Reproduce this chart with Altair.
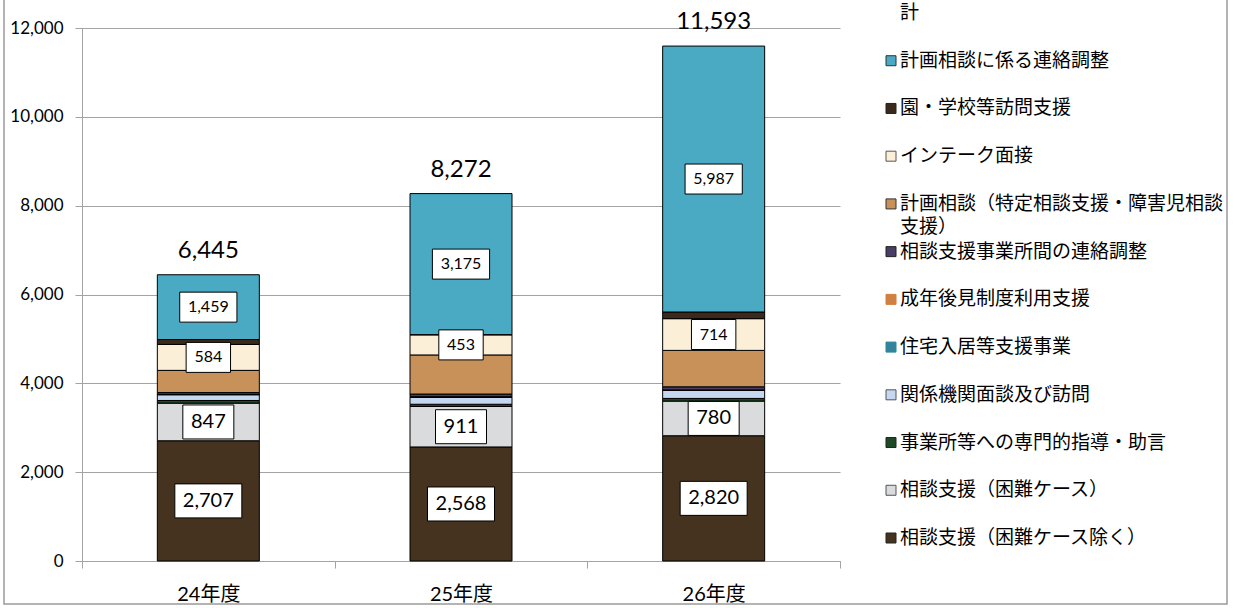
import altair as alt
import pandas as pd

# ---------------- data ----------------
categories = ["24年度", "25年度", "26年度"]

# stack order: bottom -> top
series_names = [
    "相談支援（困難ケース除く）",
    "相談支援（困難ケース）",
    "事業所等への専門的指導・助言",
    "関係機関面談及び訪問",
    "住宅入居等支援事業",
    "成年後見制度利用支援",
    "相談支援事業所間の連絡調整",
    "計画相談（特定相談支援・障害児相談支援）",
    "インテーク面接",
    "園・学校等訪問支援",
    "計画相談に係る連絡調整",
]
v_konnan_nozoku = [2707, 2568, 2820]
v_konnan = [847, 911, 780]
v_shido = [60, 50, 60]
v_kankei = [130, 160, 180]
v_jutaku = [3, 2, 4]
v_seinen = [5, 8, 8]
v_jigyosho = [40, 60, 70]
v_keikaku = [500, 880, 820]
v_intake = [584, 453, 714]
v_en = [110, 5, 150]
v_renraku = [1459, 3175, 5987]
totals = [6445, 8272, 11593]

y_ticks = [0, 2000, 4000, 6000, 8000, 10000, 12000]

series_values = [v_konnan_nozoku, v_konnan, v_shido, v_kankei, v_jutaku, v_seinen,
                 v_jigyosho, v_keikaku, v_intake, v_en, v_renraku]

series_colors = ["#45321f", "#dadbdc", "#1d4a25", "#c6d8f0", "#31849b", "#d08040",
                 "#4a3d66", "#c8915a", "#fcefd8", "#3b2a1c", "#4aaac4"]
symbol_strokes = ["#222222", "#555555", "#222222", "#555555", "#31849b", "#d08040",
                  "#222222", "#333333", "#555555", "#222222", "#333333"]

labeled_series = {"相談支援（困難ケース除く）": 20, "相談支援（困難ケース）": 20,
                  "インテーク面接": 16, "計画相談に係る連絡調整": 16}

legend_order = ["計"] + series_names[::-1]
legend_lines = {"計画相談（特定相談支援・障害児相談支援）": ["計画相談（特定相談支援・障害児相談", "支援）"]}

# ---------------- tables ----------------
bar_rows, label_rows = [], []
for i, cat in enumerate(categories):
    cum = 0
    for j, name in enumerate(series_names):
        v = series_values[j][i]
        bar_rows.append({"cat": cat, "series": name, "y0": cum, "y1": cum + v, "order": j})
        if name in labeled_series:
            fs = labeled_series[name]
            txt = f"{v:,}"
            d = sum(ch.isdigit() for ch in txt)
            c = txt.count(",")
            w = (0.55 * d + 0.25 * c) * fs + 18
            h = 34 if fs >= 20 else 30
            shape = f"M{-w/2:.1f},{-h/2:.1f}H{w/2:.1f}V{h/2:.1f}H{-w/2:.1f}Z"
            label_rows.append({"cat": cat, "mid": cum + v / 2, "txt": txt, "fs": fs, "shape": shape})
        cum += v
bar_df = pd.DataFrame(bar_rows)
label_df = pd.DataFrame(label_rows)
total_df = pd.DataFrame({"cat": categories, "total": totals,
                         "txt": [f"{t:,}" for t in totals]})

legend_rows = []
for name in legend_order:
    if name == "計":
        legend_rows.append({"name": name, "lines": [name], "fill": "none", "stroke": "none", "sym": 0})
    else:
        k = series_names.index(name)
        legend_rows.append({"name": name, "lines": legend_lines.get(name, [name]),
                            "fill": series_colors[k], "stroke": symbol_strokes[k], "sym": 1})

# ---------------- chart ----------------
GRAY = "#a3a3a3"
xscale = alt.Scale(domain=categories, paddingInner=0, paddingOuter=0)
yscale = alt.Scale(domain=[0, 12000], nice=False)

x_axis = alt.Axis(title=None, labelAngle=0, labelFont="Lato, Noto Sans CJK JP",
                  labelFontSize=20, labelColor="black", tickBand="extent",
                  tickSize=7, tickColor=GRAY, domainColor=GRAY, labelPadding=16,
                  grid=False)
y_axis = alt.Axis(title=None, values=y_ticks,
                  labelExpr="format(datum.value, ',')",
                  labelFont="Lato", labelFontSize=17, labelColor="black",
                  tickSize=7, tickColor=GRAY, domainColor=GRAY, gridColor=GRAY,
                  labelPadding=12, grid=True)

bars = alt.Chart(bar_df).mark_bar(size=102, stroke="black", strokeWidth=1).encode(
    x=alt.X("cat:N", sort=categories, scale=xscale, axis=x_axis),
    y=alt.Y("y0:Q", scale=yscale, axis=y_axis),
    y2="y1:Q",
    color=alt.Color("series:N", scale=alt.Scale(domain=series_names, range=series_colors),
                    legend=None),
)

boxes = alt.Chart(label_df).mark_point(filled=True, fill="white", stroke="black",
                                       strokeWidth=1, size=4, opacity=1,
                                       fillOpacity=1, strokeOpacity=1).encode(
    x=alt.X("cat:N", sort=categories, scale=xscale, axis=x_axis),
    y=alt.Y("mid:Q", scale=yscale, axis=y_axis),
    shape=alt.Shape("shape:N", scale=None),
)

texts = alt.Chart(label_df).mark_text(font="Lato", baseline="middle", align="center",
                                      color="black").encode(
    x=alt.X("cat:N", sort=categories, scale=xscale, axis=x_axis),
    y=alt.Y("mid:Q", scale=yscale, axis=y_axis),
    text="txt:N",
    size=alt.Size("fs:Q", scale=None),
)

total_text = alt.Chart(total_df).mark_text(font="Lato", fontSize=24, baseline="alphabetic",
                                           align="center", dy=-17, color="black").encode(
    x=alt.X("cat:N", sort=categories, scale=xscale, axis=x_axis),
    y=alt.Y("total:Q", scale=yscale, axis=y_axis),
    text="txt:N",
)

main = alt.layer(bars, boxes, texts, total_text)

leg_y = alt.Y("name:N", scale=alt.Scale(type="point", domain=legend_order,
                                         range=[-15, 510], padding=0), axis=None)
leg_data = alt.Data(values=legend_rows)

leg_sym = alt.Chart(leg_data).transform_filter("datum.sym == 1").mark_point(
    shape="square", filled=True, size=100, strokeWidth=1, opacity=1).encode(
    x=alt.value(809),
    y=leg_y,
    fill=alt.Fill("fill:N", scale=None),
    stroke=alt.Stroke("stroke:N", scale=None),
)
leg_text = alt.Chart(leg_data).mark_text(font="Noto Sans CJK JP", fontSize=19,
                                         align="left", baseline="top", dy=-9,
                                         lineHeight=23, color="black").encode(
    x=alt.value(818),
    y=leg_y,
    text=alt.Text("lines:N"),
)
legend = alt.layer(leg_sym, leg_text)

frame = alt.Chart(alt.Data(values=[{"a": 1}])).mark_rect(
    fill="white", fillOpacity=0, stroke="#9a9a9a", strokeWidth=1.5).encode(
    x=alt.value(-78), x2=alt.value(1145), y=alt.value(-40), y2=alt.value(576))

chart = alt.layer(frame, main, legend).resolve_scale(y="independent").properties(
    width=758, height=533,
    autosize=alt.AutoSizeParams(type="none"),
    padding={"left": 82, "top": 28, "right": 394, "bottom": 47},
).configure(background="white", view=alt.ViewConfig(stroke="transparent", strokeWidth=0))

chart.save("out.html", embed_options={"renderer": "svg", "actions": False})
